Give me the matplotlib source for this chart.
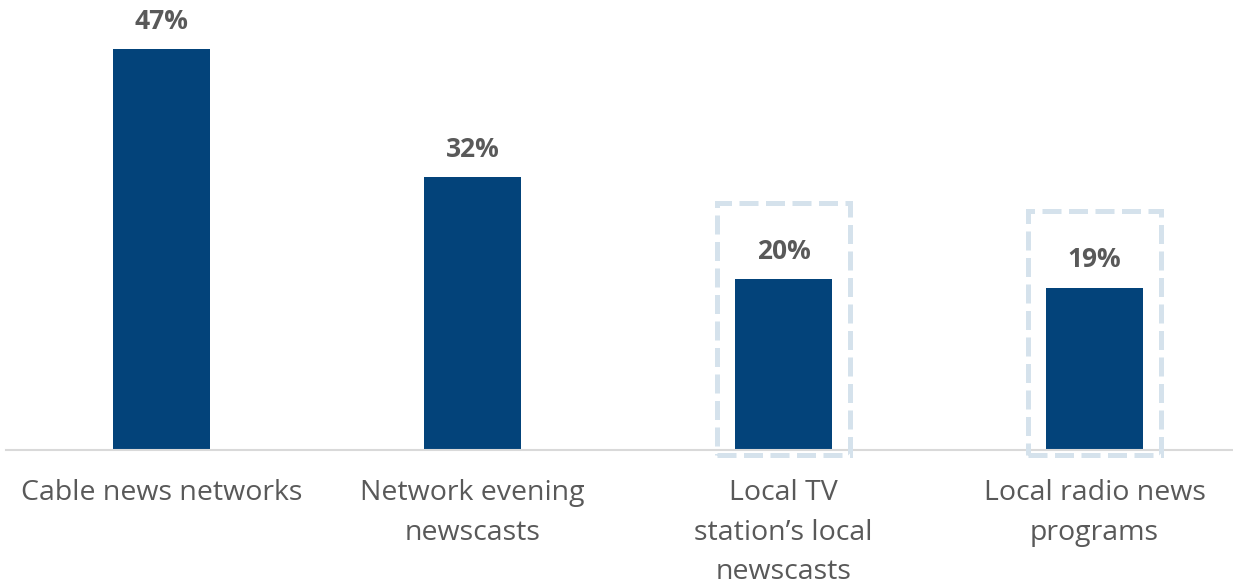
import matplotlib
matplotlib.use("Agg")
import matplotlib.pyplot as plt
from matplotlib.patches import Rectangle

# share of respondents per news source
categories = ["Cable news networks", "Network evening\nnewscasts",
              "Local TV\nstation\u2019s local\nnewscasts", "Local radio news\nprograms"]
values = [47, 32, 20, 19]
highlighted = [2, 3]

bar_color = "#03437a"
text_color = "#595959"
box_color = "#d5e2ec"

plt.rcParams["font.family"] = ["Open Sans", "DejaVu Sans"]

fig = plt.figure(figsize=(12.33, 5.84), dpi=100)
ax = fig.add_axes([6 / 1233, 134 / 584, 1244 / 1233, 450 / 584])

x = list(range(len(values)))
ax.bar(x, values, width=0.312, color=bar_color, zorder=2)

for i, v in zip(x, values):
    ax.text(i, v + 1.7, f"{v}%", ha="center", va="bottom", fontsize=19,
            fontweight="bold", color=text_color)

# dashed outline around the local sources
for i in highlighted:
    top = values[i] + 9.0
    ax.add_patch(Rectangle((i - 0.215, -0.6), 0.43, top + 0.6, fill=False,
                           edgecolor=box_color, linewidth=3.6,
                           linestyle=(0, (3.8, 1.5)), zorder=3, clip_on=False))

ax.set_xlim(-0.5, 3.5)
ax.set_ylim(0, 52.75)
ax.set_xticks(x)
ax.set_xticklabels(categories, fontsize=20.5, color=text_color, linespacing=1.54)
ax.tick_params(axis="x", length=0, pad=21)
ax.set_yticks([])
for side in ["left", "right", "top"]:
    ax.spines[side].set_visible(False)
ax.spines["bottom"].set_color("#d9d9d9")
ax.spines["bottom"].set_linewidth(1.5)

fig.savefig("out.png", dpi=100)
